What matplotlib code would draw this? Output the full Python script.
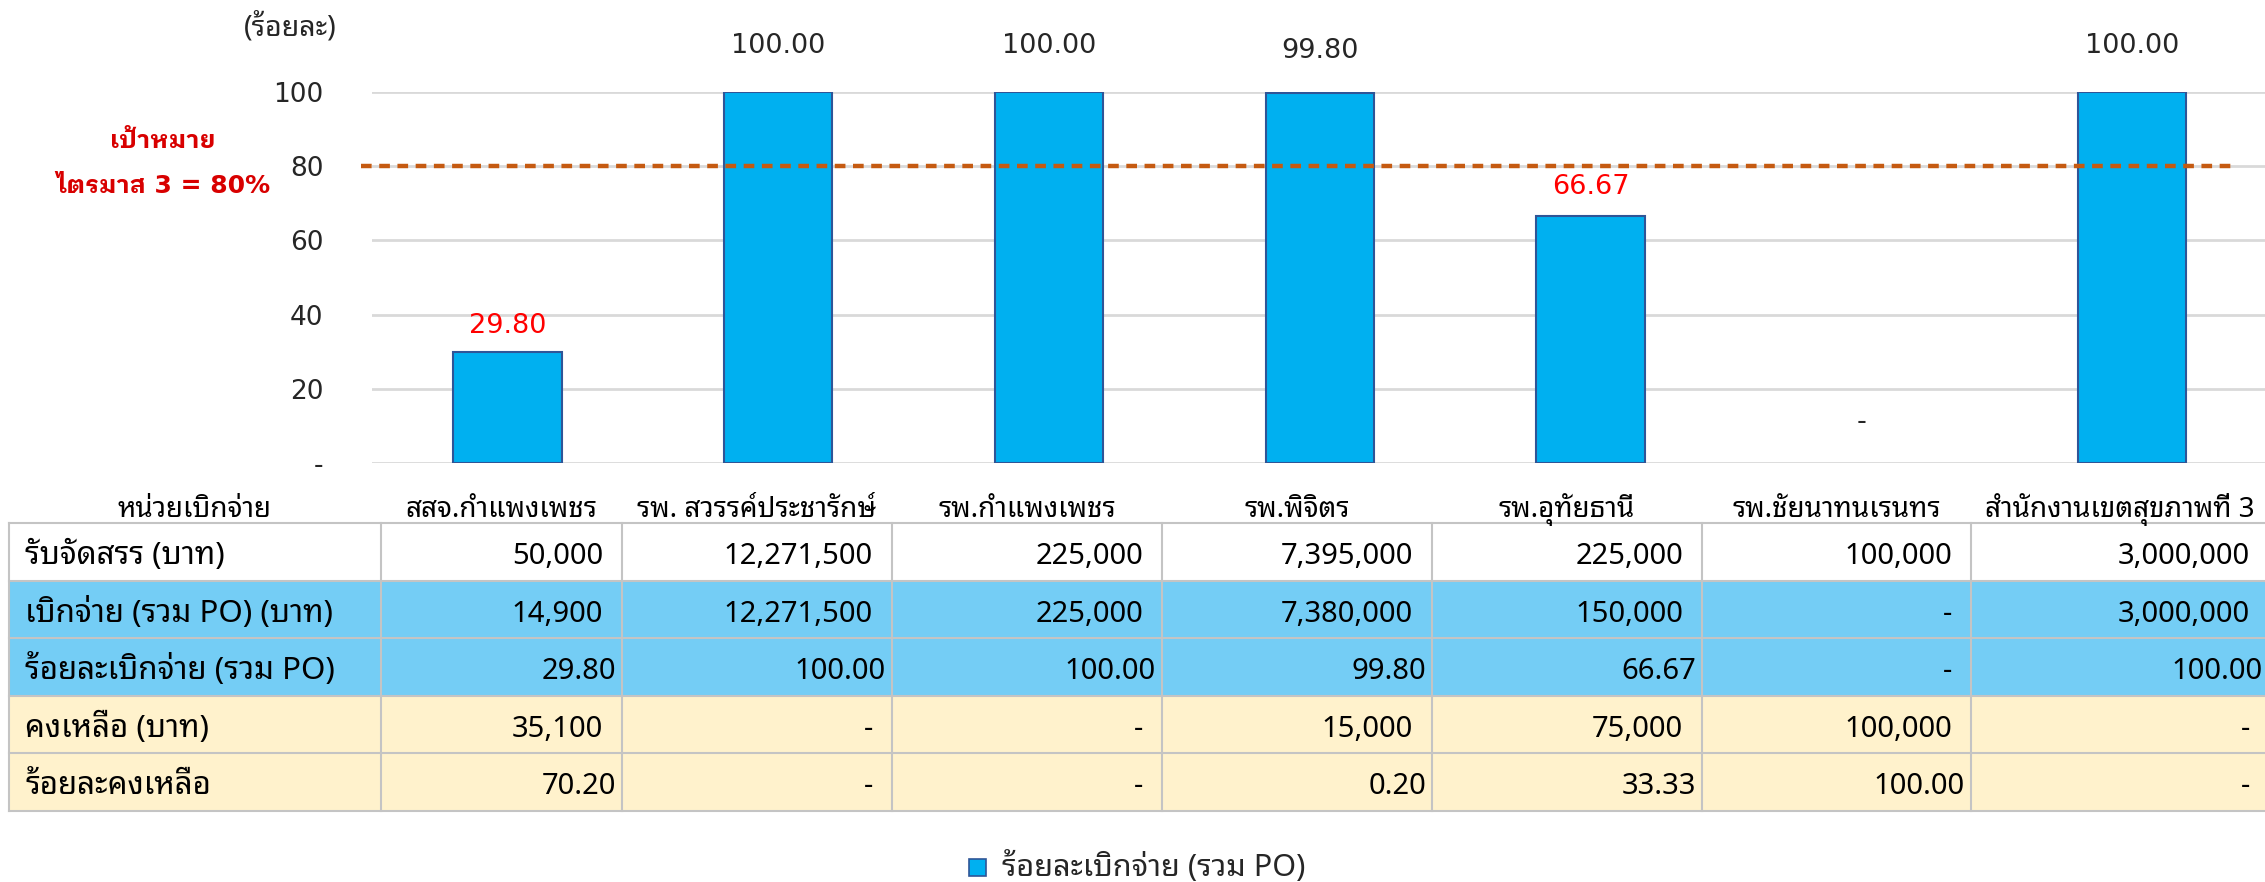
import matplotlib
matplotlib.use("Agg")
import matplotlib.pyplot as plt
from matplotlib import font_manager
from matplotlib.transforms import Affine2D
from matplotlib.patches import Rectangle

# ---------------- data ----------------
categories = ["สสจ.กำแพงเพชร", "รพ. สวรรค์ประชารักษ์", "รพ.กำแพงเพชร", "รพ.พิจิตร",
              "รพ.อุทัยธานี", "รพ.ชัยนาทนเรนทร", "สำนักงานเขตสุขภาพที่ 3"]
allocated = [50000, 12271500, 225000, 7395000, 225000, 100000, 3000000]
disbursed = [14900, 12271500, 225000, 7380000, 150000, 0, 3000000]
pct_disbursed = [29.80, 100.00, 100.00, 99.80, 66.67, 0.0, 100.00]
remaining = [35100, 0, 0, 15000, 75000, 100000, 0]
pct_remaining = [70.20, 0.0, 0.0, 0.20, 33.33, 100.00, 0.0]
target = 80
yticks = [0, 20, 40, 60, 80, 100]
ytick_labels = ["-", "20", "40", "60", "80", "100"]
row_labels = ["รับจัดสรร (บาท)", "เบิกจ่าย (รวม PO) (บาท)", "ร้อยละเบิกจ่าย (รวม PO)",
              "คงเหลือ (บาท)", "ร้อยละคงเหลือ"]
header_label = "หน่วยเบิกจ่าย"
series_name = "ร้อยละเบิกจ่าย (รวม PO)"
unit_label = "(ร้อยละ)"
target_text = ["เป้าหมาย", "ไตรมาส 3 = 80%"]

# ---------------- fonts ----------------
entries = font_manager.fontManager.ttflist
names = {f.name for f in entries}


def _w(f):
    w = f.weight
    if isinstance(w, str):
        return {"bold": 700, "heavy": 800, "black": 900, "extra bold": 800,
                "semibold": 600, "demibold": 600}.get(w.lower(), 400)
    return int(w)


def has_bold(name):
    return any(f.name == name and _w(f) >= 700 for f in entries)


thai = "Noto Sans Thai Looped" if "Noto Sans Thai Looped" in names else "Noto Sans Thai"
thai_bold = thai
for cand in [thai, "Noto Sans Thai", "IBM Plex Sans Thai Looped", "IBM Plex Sans Thai",
             "Sarabun", "Prompt", "Kanit"]:
    if cand in names and has_bold(cand):
        thai_bold = cand
        break
latin = "Noto Sans" if "Noto Sans" in names else "DejaVu Sans"
latin_bold = latin if has_bold(latin) else "DejaVu Sans"

TBL = [latin, thai, "DejaVu Sans"]
BOLD = [latin_bold, thai_bold, "DejaVu Sans"]
CHT = ["DejaVu Sans", thai]
plt.rcParams["font.family"] = CHT

# ---------------- layout ----------------
W, H = 2265, 882
fig = plt.figure(figsize=(W / 100, H / 100), dpi=100)
px = Affine2D().scale(1 / W, -1 / H).translate(0, 1) + fig.transFigure

ax_left, ax_top, ax_bottom, cat_w = 372, 92, 463, 270.8
n = len(categories)
ax = fig.add_axes([ax_left / W, 1 - ax_bottom / H, n * cat_w / W, (ax_bottom - ax_top) / H])
ax.set_xlim(-0.5, n - 0.5)
ax.set_ylim(0, 100)
for s in ax.spines.values():
    s.set_visible(False)
ax.set_xticks([])
ax.set_yticks(yticks)
ax.set_yticklabels(ytick_labels)
ax.tick_params(axis="y", length=0, pad=35, labelsize=19, labelcolor="#262626")
ax.yaxis.grid(True, color="#D9D9D9", lw=2)
ax.set_axisbelow(True)

x = list(range(n))
bar_lw = [1.5 if v else 0 for v in pct_disbursed]
ax.bar(x, pct_disbursed, width=0.4, color="#00B0F0", edgecolor="#2F5597", lw=bar_lw, zorder=2)

# target line
ax.hlines(target, -0.5 - 11 / cat_w, -0.5 + 1864 / cat_w, colors="#C55A11", lw=3.2,
          linestyles=(0, (2.4, 1.7)), clip_on=False, zorder=3)

# data labels
label_offsets = [10, 24, 24, 21, 11, 20, 24]
label_colors = ["#FF0000", "#262626", "#262626", "#262626", "#FF0000", "#262626", "#262626"]
for i, v in enumerate(pct_disbursed):
    t = f"{v:.2f}" if v else "-"
    ax.annotate(t, (i, v), xytext=(0, label_offsets[i]), textcoords="offset points",
                ha="center", va="bottom", fontsize=19.5, color=label_colors[i],
                annotation_clip=False)

# unit label & target text
fig.text(290, 27, unit_label, transform=px, ha="center", va="center", fontsize=20.5,
         color="#262626", family=TBL)
fig.text(163, 148, target_text[0], transform=px, ha="center", va="baseline", fontsize=18,
         color="#D80000", fontweight="bold", family=BOLD)
fig.text(163, 193, target_text[1], transform=px, ha="center", va="baseline", fontsize=18,
         color="#D80000", fontweight="bold", family=BOLD)

# ---------------- data table ----------------
FS_HEAD, FS_LAB, FS_VAL = 20, 22.5, 21
col_edges = [9, 381, 622, 892, 1162, 1432, 1702, 1971, 2269]
row_edges = [523, 581, 638, 696, 753, 811]
row_fill = ["#FFFFFF", "#74CDF5", "#74CDF5", "#FFF2CC", "#FFF2CC"]


def fmt_money(v):
    return f"{v:,.0f}" if v else "-"


def fmt_pct(v):
    return f"{v:.2f}" if v else "-"


rows = [[fmt_money(v) for v in allocated],
        [fmt_money(v) for v in disbursed],
        [fmt_pct(v) for v in pct_disbursed],
        [fmt_money(v) for v in remaining],
        [fmt_pct(v) for v in pct_remaining]]
is_pct = [False, False, True, False, True]

# header row
hy = 517
fig.text((col_edges[0] + col_edges[1]) / 2, hy, header_label, transform=px, ha="center",
         va="baseline", fontsize=FS_HEAD, color="#000000", family=TBL)
for j, c in enumerate(categories):
    fig.text((col_edges[j + 1] + col_edges[j + 2]) / 2, hy, c, transform=px, ha="center",
             va="baseline", fontsize=FS_HEAD, color="#000000", family=TBL)

for r in range(len(rows)):
    y0, y1 = row_edges[r], row_edges[r + 1]
    fig.patches.append(Rectangle((col_edges[0], y0), col_edges[-1] - col_edges[0], y1 - y0,
                                 transform=px, facecolor=row_fill[r], edgecolor="none", zorder=0))
    yb = y0 + 41
    fig.text(25, yb, row_labels[r], transform=px, ha="left", va="baseline",
             fontsize=FS_LAB, color="#000000", family=TBL)
    for j, t in enumerate(rows[r]):
        pad = 6 if (is_pct[r] and t != "-") else 19
        fig.text(col_edges[j + 2] - pad, yb, t, transform=px, ha="right", va="baseline",
                 fontsize=FS_VAL, color="#000000", family=TBL)

# grid lines of table
for y in row_edges:
    fig.lines.append(plt.Line2D([col_edges[0], col_edges[-1]], [y, y], transform=px,
                                color="#C4C4C4", lw=1.5))
for xe in col_edges[:-1]:
    fig.lines.append(plt.Line2D([xe, xe], [row_edges[0], row_edges[-1]], transform=px,
                                color="#C4C4C4", lw=1.5))

# legend
fig.patches.append(Rectangle((969, 859), 17, 17, transform=px, facecolor="#00B0F0",
                             edgecolor="#2F5597", lw=1.2))
fig.text(1002, 876, series_name, transform=px, ha="left", va="baseline", fontsize=22,
         color="#262626", family=TBL)

fig.savefig("out.png", dpi=100)
